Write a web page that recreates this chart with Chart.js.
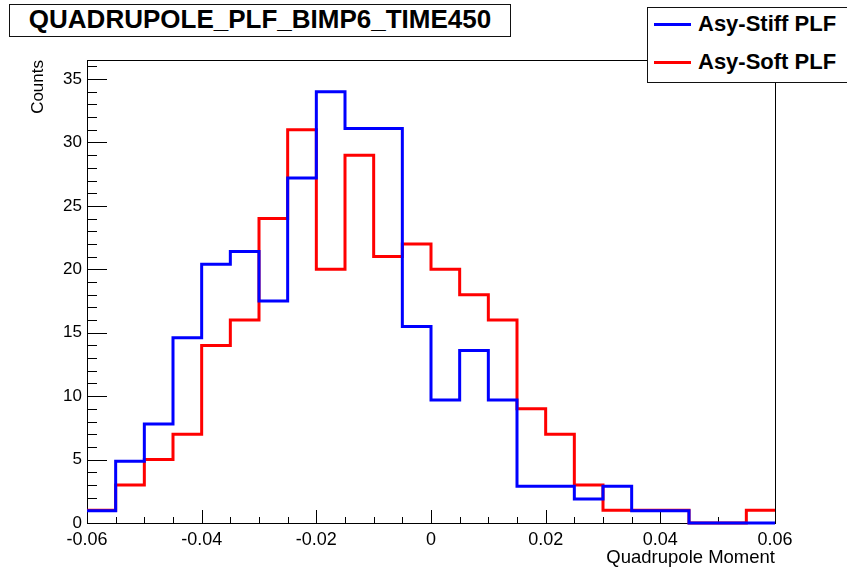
<!DOCTYPE html>
<html>
<head>
<meta charset="utf-8">
<title>QUADRUPOLE_PLF_BIMP6_TIME450</title>
<script src="https://cdn.jsdelivr.net/npm/chart.js@4"></script>
<style>
  html, body { margin: 0; padding: 0; background: #fff; }
  #wrap { position: relative; width: 847px; height: 571px; overflow: hidden; font-family: "Liberation Sans", Arial, sans-serif; }
  #plot { position: absolute; left: 0; top: 0; }
  #title { position: absolute; left: 9px; top: 4px; width: 500px; height: 31px; border: 1.5px solid #111; background: #fff;
           font-weight: bold; font-size: 26px; line-height: 29px; text-align: center; color: #000; white-space: nowrap; }
  #legend { position: absolute; left: 647px; top: 7px; width: 220px; height: 74px; border: 1.5px solid #111; background: #fff; }
  .swatch { position: absolute; left: 6px; width: 37px; height: 3px; }
  .label { position: absolute; left: 50px; height: 30px; font-weight: bold; font-size: 22px; line-height: 30px; color: #000; white-space: nowrap; }
</style>
</head>
<body>
<div id="wrap">
  <canvas id="plot" width="847" height="571"></canvas>
  <div id="title"></div>
  <div id="legend"></div>
</div>
<script>
// histogram bins (lower edges + final upper edge)
const binEdges = [-0.06, -0.055, -0.05, -0.045, -0.04, -0.035, -0.03, -0.025, -0.02, -0.015, -0.01, -0.005,
                  0, 0.005, 0.01, 0.015, 0.02, 0.025, 0.03, 0.035, 0.04, 0.045, 0.05, 0.055, 0.06];
const stiffCounts = [0.97, 4.86, 7.8, 14.6, 20.4, 21.4, 17.5, 27.2, 34.0, 31.1, 31.1, 15.5,
                     9.7, 13.6, 9.7, 2.9, 2.9, 1.9, 2.9, 0.97, 0.97, 0, 0, 0];
const softCounts = [1, 3, 5, 7, 14, 16, 24, 31, 20, 29, 21, 22,
                    20, 18, 16, 9, 7, 3, 1, 1, 1, 0, 0, 1];
const xTickValues = [-0.06, -0.04, -0.02, 0, 0.02, 0.04, 0.06];
const xTickLabels = ['-0.06', '-0.04', '-0.02', '0', '0.02', '0.04', '0.06'];
const yTickValues = [0, 5, 10, 15, 20, 25, 30, 35];
const seriesNames = ['Asy-Stiff PLF', 'Asy-Soft PLF'];
const seriesColors = ['#0000ff', '#ff0000'];
const chartTitle = 'QUADRUPOLE_PLF_BIMP6_TIME450';

function histPoints(counts) {
    const pts = counts.map((c, i) => ({x: binEdges[i], y: c}));
    pts.push({x: binEdges[counts.length], y: counts[counts.length - 1]});
    return pts;
}

// ROOT-like frame with ticks pointing inward
const frameTicks = {
    id: 'frameTicks',
    beforeDatasetsDraw(chart) {
        const {ctx, chartArea: a, scales: {x, y}} = chart;
        ctx.save();
        ctx.strokeStyle = '#000';
        ctx.lineWidth = 1;
        ctx.strokeRect(a.left + 0.5, a.top + 0.5, a.right - a.left, a.bottom - a.top);
        ctx.beginPath();
        for (let v = 0; v <= 36; v++) {
            const py = Math.round(y.getPixelForValue(v)) + 0.5;
            const len = v % 5 === 0 ? 20 : 10;
            ctx.moveTo(a.left, py);
            ctx.lineTo(a.left + len, py);
        }
        for (let i = 0; i < binEdges.length; i++) {
            const px = Math.round(x.getPixelForValue(binEdges[i])) + 0.5;
            const len = i % 4 === 0 ? 13 : 6;
            ctx.moveTo(px, a.bottom);
            ctx.lineTo(px, a.bottom - len);
        }
        ctx.stroke();
        ctx.restore();
    }
};

function makeDataset(i, counts) {
    return {
        label: seriesNames[i],
        data: histPoints(counts),
        borderColor: seriesColors[i],
        borderWidth: 3,
        borderJoinStyle: 'miter',
        stepped: 'before',
        pointRadius: 0,
        fill: false,
        clip: false
    };
}

document.getElementById('title').textContent = chartTitle;

const legend = document.getElementById('legend');
seriesNames.forEach((name, i) => {
    const cy = 16 + i * 38;
    const sw = document.createElement('div');
    sw.className = 'swatch';
    sw.style.top = (cy - 1.5) + 'px';
    sw.style.background = seriesColors[i];
    legend.appendChild(sw);
    const lb = document.createElement('div');
    lb.className = 'label';
    lb.style.top = (cy - 15) + 'px';
    lb.textContent = name;
    legend.appendChild(lb);
});

const tickFont = {family: '"Liberation Sans", Arial, sans-serif'};

new Chart(document.getElementById('plot'), {
    type: 'line',
    data: {
        datasets: [makeDataset(0, stiffCounts), makeDataset(1, softCounts)]
    },
    options: {
        responsive: false,
        animation: false,
        devicePixelRatio: 1,
        layout: {padding: {top: 60, right: 72, left: 0, bottom: 0}},
        plugins: {
            legend: {display: false},
            title: {display: false},
            tooltip: {enabled: false}
        },
        scales: {
            x: {
                type: 'linear',
                min: -0.06,
                max: 0.06,
                afterBuildTicks: (s) => { s.ticks = xTickValues.map(v => ({value: v})); },
                afterFit: (s) => { s.height = 48; },
                grid: {display: false, drawTicks: false},
                border: {display: false},
                ticks: {
                    autoSkip: false,
                    maxRotation: 0,
                    padding: 6,
                    color: '#000',
                    font: {...tickFont, size: 18},
                    callback: (v, i) => xTickLabels[i]
                },
                title: {
                    display: true,
                    text: 'Quadrupole Moment',
                    align: 'end',
                    color: '#000',
                    font: {...tickFont, size: 18.5},
                    padding: {top: 0, bottom: 2}
                }
            },
            y: {
                min: 0,
                max: 36.5,
                afterBuildTicks: (s) => { s.ticks = yTickValues.map(v => ({value: v})); },
                afterFit: (s) => { s.width = 87; },
                grid: {display: false, drawTicks: false},
                border: {display: false},
                ticks: {
                    padding: 5,
                    color: '#000',
                    font: {...tickFont, size: 17}
                },
                title: {
                    display: true,
                    text: 'Counts',
                    align: 'end',
                    color: '#000',
                    font: {...tickFont, size: 17},
                    padding: {top: 28, bottom: 0}
                }
            }
        }
    },
    plugins: [frameTicks]
});
</script>
</body>
</html>
